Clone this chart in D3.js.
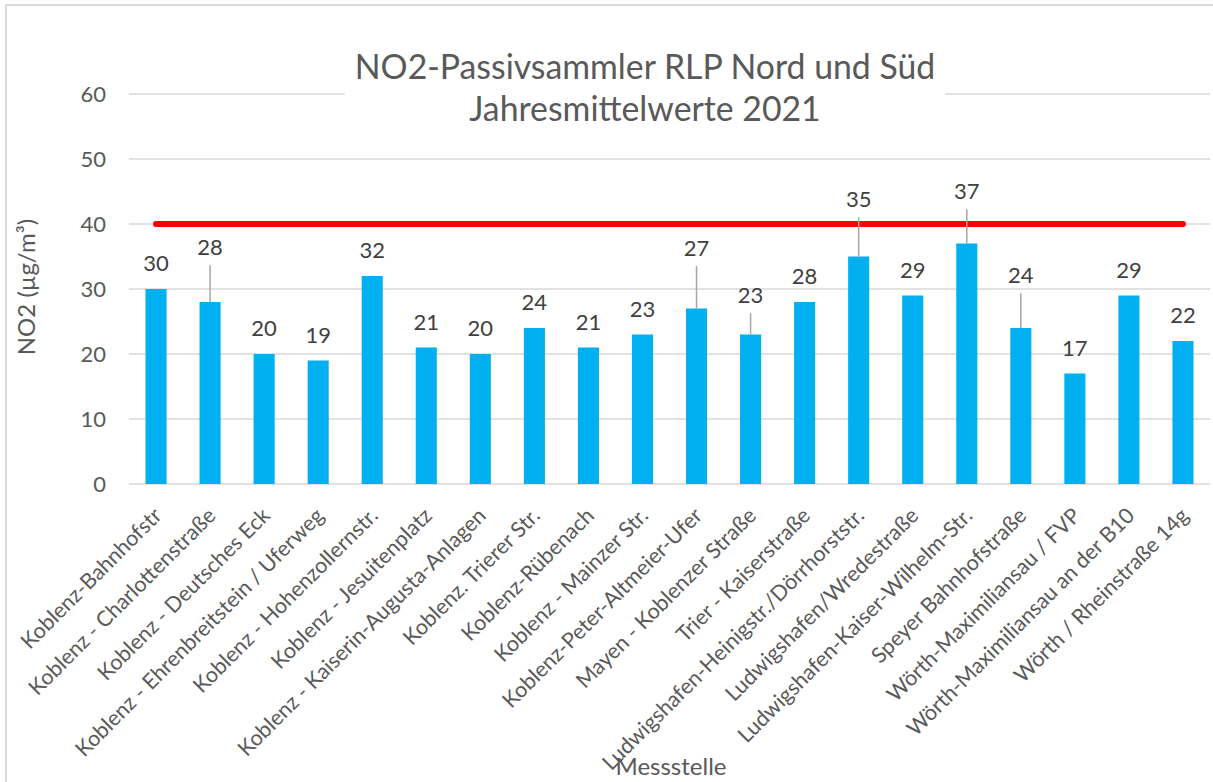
<!DOCTYPE html>
<meta charset="utf-8">
<style>
    body {
        margin: 0;
        background: #fff;
        font-family: Lato, "Open Sans", sans-serif;
    }
</style>

<body>
    <svg width="1213" height="782"></svg>

    <script src="https://d3js.org/d3.v7.min.js"></script>
    <script>
        // Messstellen (Kategorien)
        const stations = [
            "Koblenz-Bahnhofstr",
            "Koblenz - Charlottenstraße",
            "Koblenz - Deutsches Eck",
            "Koblenz - Ehrenbreitstein / Uferweg",
            "Koblenz - Hohenzollernstr.",
            "Koblenz - Jesuitenplatz",
            "Koblenz - Kaiserin-Augusta-Anlagen",
            "Koblenz. Trierer Str.",
            "Koblenz-Rübenach",
            "Koblenz - Mainzer Str.",
            "Koblenz-Peter-Altmeier-Ufer",
            "Mayen - Koblenzer Straße",
            "Trier - Kaiserstraße",
            "Ludwigshafen-Heinigstr./Dörrhorststr.",
            "Ludwigshafen/Wredestraße",
            "Ludwigshafen-Kaiser-Wilhelm-Str.",
            "Speyer Bahnhofstraße",
            "Wörth-Maximiliansau / FVP",
            "Wörth-Maximiliansau an der B10",
            "Wörth / Rheinstraße 14g"
        ];

        // Jahresmittelwerte 2021 (µg/m³)
        const values = [30, 28, 20, 19, 32, 21, 20, 24, 21, 23, 27, 23, 28, 35, 29, 37, 24, 17, 29, 22];

        // Grenzwert (Linie)
        const limit = [40, 40, 40, 40, 40, 40, 40, 40, 40, 40, 40, 40, 40, 40, 40, 40, 40, 40, 40, 40];

        const yTicks = [0, 10, 20, 30, 40, 50, 60];

        // Beschriftungen, die mit Führungslinie nach oben verschoben sind (Abstand in µg/m³)
        const labelLift = {
            "Koblenz - Charlottenstraße": 7.2,
            "Koblenz-Peter-Altmeier-Ufer": 8.1,
            "Mayen - Koblenzer Straße": 4.8,
            "Ludwigshafen-Heinigstr./Dörrhorststr.": 7.6,
            "Ludwigshafen-Kaiser-Wilhelm-Str.": 6.8,
            "Speyer Bahnhofstraße": 6.9
        };

        const svg = d3.select("svg");
        const margin = { top: 94, bottom: 298, left: 129, right: 3 };
        const width = +svg.attr("width");
        const height = +svg.attr("height");

        const textColor = "#595959";
        const gridColor = "#D9D9D9";

        // Rahmen des Diagrammbereichs
        svg.append("rect")
            .attr("x", 6).attr("y", 5)
            .attr("width", width + 20).attr("height", height + 20)
            .attr("fill", "#fff")
            .attr("stroke", gridColor)
            .attr("stroke-width", 2);

        const x = d3.scaleBand()
            .domain(stations)
            .range([margin.left, width - margin.right])
            .paddingInner(0.61)
            .paddingOuter(0.305);

        const y = d3.scaleLinear()
            .domain([0, 60])
            .range([height - margin.bottom, margin.top]);

        // Gitternetz
        svg.append("g")
            .selectAll("line")
            .data(yTicks)
            .join("line")
            .attr("x1", margin.left)
            .attr("x2", width - margin.right)
            .attr("y1", d => y(d))
            .attr("y2", d => y(d))
            .attr("stroke", gridColor)
            .attr("stroke-width", 1.5);

        svg.append("g")
            .selectAll("text")
            .data(yTicks)
            .join("text")
            .attr("x", 106)
            .attr("y", d => y(d))
            .attr("dy", "0.36em")
            .attr("text-anchor", "end")
            .attr("fill", textColor)
            .style("font-size", "22px")
            .text(d => d);

        // Titel mit weißem Hintergrund
        const titleG = svg.append("g");
        const titleBg = titleG.append("rect").attr("fill", "#fff");
        const title = titleG.append("text")
            .attr("text-anchor", "middle")
            .attr("fill", textColor)
            .style("font-size", "33.8px");
        title.append("tspan").attr("x", 645).attr("y", 79).text("NO2-Passivsammler RLP Nord und Süd");
        title.append("tspan").attr("x", 645).attr("y", 121).text("Jahresmittelwerte 2021");
        const tb = title.node().getBBox();
        titleBg.attr("x", tb.x - 10).attr("y", tb.y - 4)
            .attr("width", tb.width + 20).attr("height", tb.height + 8);

        // Balken
        const rows = stations.map((s, i) => ({ station: s, value: values[i], limit: limit[i] }));

        svg.append("g")
            .selectAll("rect")
            .data(rows)
            .join("rect")
            .attr("x", d => x(d.station))
            .attr("y", d => y(d.value))
            .attr("width", x.bandwidth())
            .attr("height", d => y(0) - y(d.value))
            .attr("fill", "#00B0F0");

        // Grenzwertlinie
        const line = d3.line()
            .x(d => x(d.station) + x.bandwidth() / 2)
            .y(d => y(d.limit));

        svg.append("path")
            .datum(rows)
            .attr("d", line)
            .attr("fill", "none")
            .attr("stroke", "#FF0000")
            .attr("stroke-width", 6)
            .attr("stroke-linecap", "round");

        // Führungslinien
        const lifted = rows.filter(d => labelLift[d.station] !== undefined);
        svg.append("g")
            .selectAll("line")
            .data(lifted)
            .join("line")
            .attr("x1", d => x(d.station) + x.bandwidth() / 2)
            .attr("x2", d => x(d.station) + x.bandwidth() / 2)
            .attr("y1", d => y(d.value))
            .attr("y2", d => y(d.value + labelLift[d.station]) + 10)
            .attr("stroke", "#A6A6A6")
            .attr("stroke-width", 1.5);

        // Datenbeschriftungen
        svg.append("g")
            .selectAll("text")
            .data(rows)
            .join("text")
            .attr("x", d => x(d.station) + x.bandwidth() / 2)
            .attr("y", d => labelLift[d.station] !== undefined
                ? y(d.value + labelLift[d.station])
                : y(d.value) - 18)
            .attr("text-anchor", "middle")
            .attr("fill", "#404040")
            .style("font-size", "22px")
            .text(d => d.value);

        // Kategorienbeschriftungen (gedreht)
        svg.append("g")
            .selectAll("text")
            .data(stations)
            .join("text")
            .attr("transform", d => `translate(${x(d) + x.bandwidth() / 2 + 7},${y(0) + 33}) rotate(-45)`)
            .attr("text-anchor", "end")
            .attr("fill", textColor)
            .style("font-size", "21.5px")
            .text(d => d);

        // Achsentitel
        svg.append("text")
            .attr("transform", "translate(35,287) rotate(-90)")
            .attr("text-anchor", "middle")
            .attr("fill", textColor)
            .style("font-size", "24px")
            .text("NO2 (µg/m³)");

        svg.append("text")
            .attr("x", 671)
            .attr("y", 775)
            .attr("text-anchor", "middle")
            .attr("fill", textColor)
            .style("font-size", "24px")
            .text("Messstelle");
    </script>
</body>
